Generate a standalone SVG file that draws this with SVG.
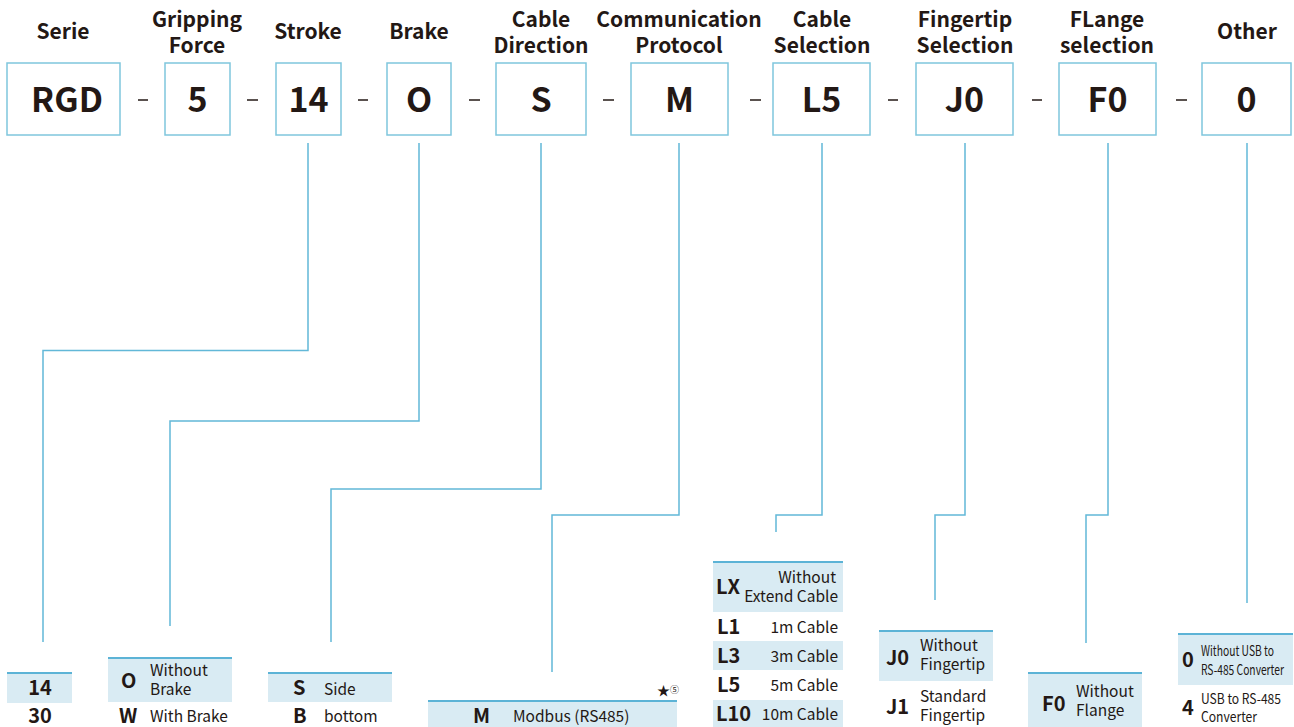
<svg xmlns="http://www.w3.org/2000/svg" width="1294" height="727" viewBox="0 0 1294 727">
<style>
text{font-family:"Noto Sans CJK SC","Noto Sans",sans-serif;fill:#231815}
.title{font-size:21px;font-weight:700;text-anchor:middle}
.code{font-size:34px;font-weight:700;text-anchor:middle}
.box{fill:#fff;stroke:#7fc6dd;stroke-width:1.5}
.dash{stroke:#231815;stroke-width:1.5}
.conn{fill:none;stroke:#62b8d8;stroke-width:1.5}
.hl{fill:#d9ebf3}
.top{stroke:#5cb3d6;stroke-width:2}
.k{font-size:20px;font-weight:700}
.kc{font-size:20px;font-weight:700;text-anchor:middle}
.d{font-size:15.5px}
.dr{font-size:15.5px;text-anchor:end}
.n{font-size:14px}
</style>
<rect width="1294" height="727" fill="#fff"/>

<g id="header">
<g id="serie"><text class="title" x="63" y="39">Serie</text><rect class="box" x="7" y="63" width="113" height="72"/><text class="code" x="67" y="112">RGD</text></g>
<g id="force"><text class="title" x="197" y="27">Gripping</text><text class="title" x="197" y="53">Force</text><rect class="box" x="165" y="63" width="65" height="72"/><text class="code" x="197.5" y="112">5</text></g>
<g id="stroke"><text class="title" x="308" y="39">Stroke</text><rect class="box" x="276" y="63" width="65" height="72"/><text class="code" x="308.5" y="112">14</text></g>
<g id="brake"><text class="title" x="419" y="39">Brake</text><rect class="box" x="387" y="63" width="64" height="72"/><text class="code" x="419" y="112">O</text></g>
<g id="cabledir"><text class="title" x="541" y="27">Cable</text><text class="title" x="541" y="53">Direction</text><rect class="box" x="496" y="63" width="90" height="72"/><text class="code" x="541" y="112">S</text></g>
<g id="protocol"><text class="title" x="679" y="27">Communication</text><text class="title" x="679" y="53">Protocol</text><rect class="box" x="631" y="63" width="97" height="72"/><text class="code" x="679.5" y="112">M</text></g>
<g id="cablesel"><text class="title" x="822" y="27">Cable</text><text class="title" x="822" y="53">Selection</text><rect class="box" x="773" y="63" width="97" height="72"/><text class="code" x="821.5" y="112">L5</text></g>
<g id="fingertip"><text class="title" x="965" y="27">Fingertip</text><text class="title" x="965" y="53">Selection</text><rect class="box" x="916" y="63" width="97" height="72"/><text class="code" x="964.5" y="112">J0</text></g>
<g id="flange"><text class="title" x="1107" y="27">FLange</text><text class="title" x="1107" y="53">selection</text><rect class="box" x="1059" y="63" width="97" height="72"/><text class="code" x="1107.5" y="112">F0</text></g>
<g id="other"><text class="title" x="1247" y="39">Other</text><rect class="box" x="1202" y="63" width="89" height="72"/><text class="code" x="1246.5" y="112">0</text></g>
<g id="dashes">
<line class="dash" x1="138" y1="100" x2="148" y2="100"/>
<line class="dash" x1="247" y1="100" x2="258" y2="100"/>
<line class="dash" x1="358" y1="100" x2="368" y2="100"/>
<line class="dash" x1="469" y1="100" x2="480" y2="100"/>
<line class="dash" x1="603" y1="100" x2="614" y2="100"/>
<line class="dash" x1="750" y1="100" x2="761" y2="100"/>
<line class="dash" x1="888" y1="100" x2="898" y2="100"/>
<line class="dash" x1="1032" y1="100" x2="1042" y2="100"/>
<line class="dash" x1="1176" y1="100" x2="1187" y2="100"/>
</g>
</g>

<g id="connectors">
<polyline class="conn" points="308,143 308,350.5 43,350.5 43,642"/>
<polyline class="conn" points="419,143 419,421 170,421 170,626"/>
<polyline class="conn" points="541,143 541,489 331,489 331,642"/>
<polyline class="conn" points="679,143 679,515 552,515 552,672"/>
<polyline class="conn" points="822,143 822,515 776,515 776,532"/>
<polyline class="conn" points="965,143 965,515 935,515 935,600"/>
<polyline class="conn" points="1108,143 1108,515 1086,515 1086,643"/>
<polyline class="conn" points="1247,143 1247,603"/>
</g>

<g id="table-stroke">
<rect class="hl" x="7" y="673" width="65" height="30"/>
<line class="top" x1="7" y1="673" x2="72" y2="673"/>
<text class="kc" x="40" y="695">14</text>
<text class="kc" x="40" y="723">30</text>
</g>

<g id="table-brake">
<rect class="hl" x="108" y="658" width="124" height="44"/>
<line class="top" x1="108" y1="658" x2="232" y2="658"/>
<text class="k" x="121" y="688">O</text>
<text class="d" x="150" y="676">Without</text>
<text class="d" x="150" y="695">Brake</text>
<text class="k" x="119" y="723">W</text>
<text class="d" x="150" y="722">With Brake</text>
</g>

<g id="table-cabledir">
<rect class="hl" x="268" y="673" width="124" height="29"/>
<line class="top" x1="268" y1="673" x2="392" y2="673"/>
<text class="k" x="293" y="695">S</text>
<text class="d" x="324" y="695">Side</text>
<text class="k" x="293" y="723">B</text>
<text class="d" x="324" y="722">bottom</text>
</g>

<g id="table-protocol">
<text x="657" y="695" style="font-size:13px">★<tspan style="font-size:9px" dy="-2">⑤</tspan></text>
<rect class="hl" x="428" y="701" width="249" height="26"/>
<line class="top" x1="428" y1="701" x2="677" y2="701"/>
<text class="k" x="473" y="723">M</text>
<text class="d" x="513" y="722">Modbus (RS485)</text>
</g>

<g id="table-cablesel">
<rect class="hl" x="713" y="562" width="130" height="50"/>
<rect class="hl" x="713" y="641" width="130" height="29"/>
<rect class="hl" x="713" y="700" width="130" height="27"/>
<line class="top" x1="713" y1="562" x2="843" y2="562"/>
<text class="k" x="716" y="594">LX</text>
<text class="dr" x="836" y="583">Without</text>
<text class="dr" x="838" y="602">Extend Cable</text>
<text class="k" x="717" y="634">L1</text>
<text class="dr" x="838" y="633">1m Cable</text>
<text class="k" x="717" y="663">L3</text>
<text class="dr" x="838" y="662">3m Cable</text>
<text class="k" x="717" y="692">L5</text>
<text class="dr" x="838" y="691">5m Cable</text>
<text class="k" x="716" y="721">L10</text>
<text class="dr" x="838" y="720">10m Cable</text>
</g>

<g id="table-fingertip">
<rect class="hl" x="879" y="631" width="114" height="50"/>
<line class="top" x1="879" y1="631" x2="993" y2="631"/>
<text class="k" x="886" y="665">J0</text>
<text class="d" x="920" y="651">Without</text>
<text class="d" x="920" y="670">Fingertip</text>
<text class="k" x="886" y="714">J1</text>
<text class="d" x="920" y="702">Standard</text>
<text class="d" x="920" y="721">Fingertip</text>
</g>

<g id="table-flange">
<rect class="hl" x="1028" y="673" width="114" height="54"/>
<line class="top" x1="1028" y1="673" x2="1142" y2="673"/>
<text class="k" x="1042" y="711">F0</text>
<text class="d" x="1076" y="697">Without</text>
<text class="d" x="1076" y="716">Flange</text>
</g>

<g id="table-other">
<rect class="hl" x="1178" y="634" width="115" height="51"/>
<line class="top" x1="1178" y1="634" x2="1293" y2="634"/>
<text class="k" x="1182" y="667">0</text>
<text class="n" x="1201" y="656" textLength="73" lengthAdjust="spacingAndGlyphs">Without USB to</text>
<text class="n" x="1201" y="675" textLength="83" lengthAdjust="spacingAndGlyphs">RS-485 Converter</text>
<text class="k" x="1182" y="715">4</text>
<text class="n" x="1201" y="704" textLength="80" lengthAdjust="spacingAndGlyphs">USB to RS-485</text>
<text class="n" x="1201" y="722" textLength="56" lengthAdjust="spacingAndGlyphs">Converter</text>
</g>
</svg>
